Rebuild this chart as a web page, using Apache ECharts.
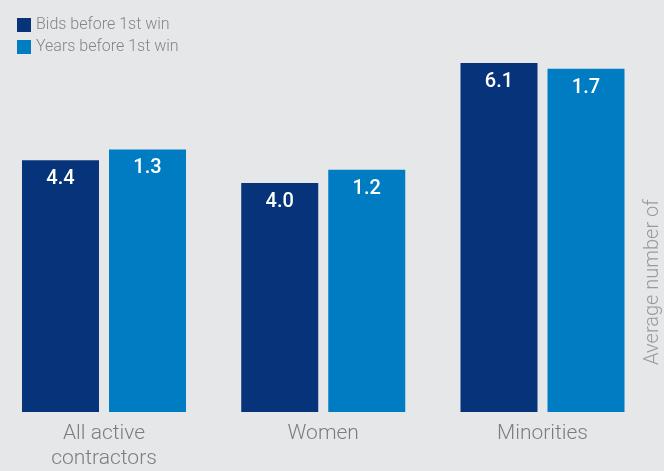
<!DOCTYPE html>
<html>
<head>
<meta charset="utf-8">
<script src="https://cdn.jsdelivr.net/npm/echarts@6/dist/echarts.min.js"></script>
<style>
  html, body { margin: 0; padding: 0; background: #e6e7e9; }
  #main { width: 664px; height: 471px; }
</style>
</head>
<body>
<div id="main"></div>
<script>
var categories = ['All active\ncontractors', 'Women', 'Minorities'];
var bids = [4.4, 4.0, 6.1];
var years = [1.3, 1.2, 1.7];

var chartDom = document.getElementById('main');
var myChart = echarts.init(chartDom);
var option;

// white value label sitting inside the top of each bar
var barLabel = {
  show: true,
  position: 'insideTop',
  distance: 9,
  color: '#ffffff',
  fontSize: 20,
  fontWeight: 500,
  fontFamily: 'Roboto',
  formatter: function (p) { return p.value.toFixed(1); }
};

option = {
  backgroundColor: '#e6e7e9',
  animation: false,
  legend: {
    orient: 'vertical',
    left: 12,
    top: 12,
    itemWidth: 14,
    itemHeight: 14,
    itemGap: 6,
    icon: 'rect',
    textStyle: { color: '#858585', fontSize: 16, lineHeight: 14, fontWeight: 300, fontFamily: 'Roboto' }
  },
  grid: { left: 104, right: 121.5, top: 0, bottom: 56 },
  xAxis: {
    type: 'category',
    data: categories,
    boundaryGap: false,
    axisLine: { show: false },
    axisTick: { show: false },
    axisLabel: {
      color: '#7d7d7d',
      fontSize: 21,
      fontWeight: 300,
      fontFamily: 'Roboto',
      lineHeight: 25,
      margin: 9
    }
  },
  yAxis: [
    { type: 'value', min: 0, max: 7.2, show: false },
    { type: 'value', min: 0, max: 2.04, show: false }
  ],
  graphic: [{
    type: 'text',
    x: 653,
    y: 282,
    rotation: Math.PI / 2,
    style: {
      text: 'Average number of',
      fill: '#9a9a9a',
      fontSize: 20,
      fontWeight: 300,
      fontFamily: 'Roboto',
      align: 'center',
      verticalAlign: 'middle'
    }
  }],
  series: [
    {
      name: 'Bids before 1st win',
      type: 'bar',
      yAxisIndex: 0,
      data: bids,
      clip: false,
      barWidth: 77,
      barGap: '13%',
      itemStyle: { color: '#06337a' },
      label: barLabel
    },
    {
      name: 'Years before 1st win',
      type: 'bar',
      yAxisIndex: 1,
      data: years,
      clip: false,
      barWidth: 77,
      barGap: '13%',
      itemStyle: { color: '#007cc3' },
      label: barLabel
    }
  ]
};

option && myChart.setOption(option);
</script>
</body>
</html>
